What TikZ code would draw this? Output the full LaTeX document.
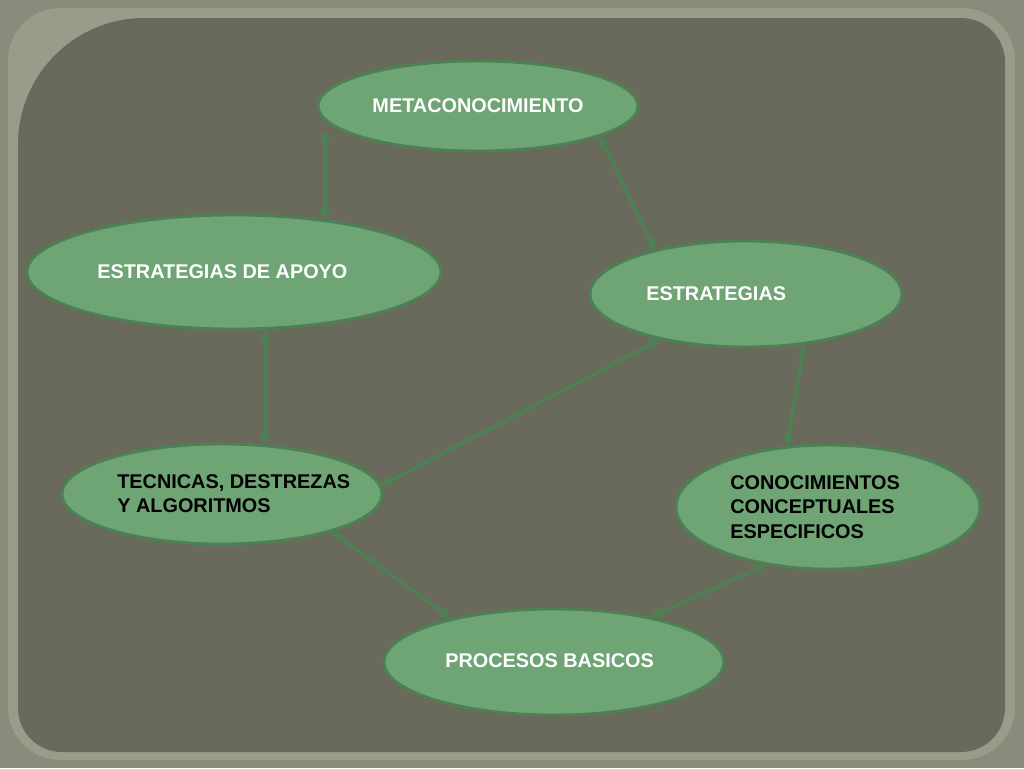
\documentclass[tikz,border=0pt]{standalone}
\usepackage{fontspec}
\setmainfont{Liberation Sans}
\usetikzlibrary{shapes.geometric,arrows.meta}
\definecolor{bgouter}{HTML}{8A8C7B}
\definecolor{bgframe}{HTML}{9A9C8A}
\definecolor{panel}{HTML}{6A6A5C}
\definecolor{leaf}{HTML}{6FA474}
\definecolor{leafline}{HTML}{4C8253}
\tikzset{
  bubble/.style={draw=leafline, fill=leaf, ellipse, line width=1.6pt, inner sep=0pt},
  txt/.style={font=\fontsize{11.3}{13.8}\selectfont\bfseries, align=left, anchor=west, inner sep=0pt},
  link/.style={draw=leafline, line width=2pt, {Stealth[length=7pt,width=7pt]}-{Stealth[length=7pt,width=7pt]}}
}
\begin{document}
\begin{tikzpicture}[x=0.02cm, y=-0.02cm]
    % Background and panel
\useasboundingbox (0,0) rectangle (1024,768);
\fill[bgouter] (0,0) rectangle (1024,768);
\fill[bgframe, rounded corners=30] (8,8) rectangle (1015,760);
\fill[panel] (18,400) [rounded corners=72] -- (18,18) [rounded corners=25] -- (1005,18) -- (1005,752) -- (18,752) -- cycle;

    % Bubbles
\node[bubble, minimum width=6.4cm, minimum height=1.8cm] (meta) at (478,106) {};
\node[bubble, minimum width=8.28cm, minimum height=2.28cm] (apoyo) at (234,272) {};
\node[bubble, minimum width=6.24cm, minimum height=2.12cm] (estr) at (746,294) {};
\node[bubble, minimum width=6.4cm, minimum height=2cm] (tec) at (222,494) {};
\node[bubble, minimum width=6.08cm, minimum height=2.48cm] (conoc) at (828,507) {};
\node[bubble, minimum width=6.8cm, minimum height=2.12cm] (proc) at (554,662) {};

    % Texts
\node[txt, anchor=center, text=white] (tmeta) at (478,106) {METACONOCIMIENTO};
\node[txt, text=white] (tapoyo) at (97,272) {ESTRATEGIAS DE APOYO};
\node[txt, text=white] (testr) at (646,294) {ESTRATEGIAS};
\node[txt, text=black] (ttec) at (117,494) {TECNICAS, DESTREZAS\\Y ALGORITMOS};
\node[txt, text=black] (tconoc) at (730,507) {CONOCIMIENTOS\\CONCEPTUALES\\ESPECIFICOS};
\node[txt, text=white] (tproc) at (445,661) {PROCESOS BASICOS};

    % Connections
\draw[link] (apoyo.30) -- (apoyo.30 |- meta.190);
\draw[link] (meta.346) -- (estr.154);
\draw[link] (estr.208) -- (tec.3);
\draw[link] (estr.319) -- (conoc.124);
\draw[link] (apoyo.299) -- (tec.49);
\draw[link] (tec.341) -- (proc.157);
\draw[link] (conoc.223) -- (proc.25);
\end{tikzpicture}
\end{document}
